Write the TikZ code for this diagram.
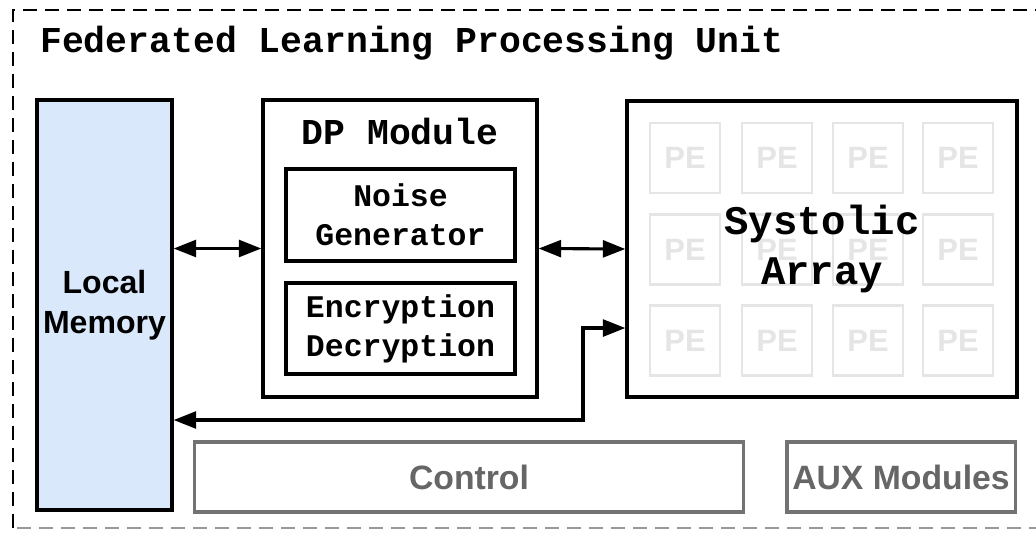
\documentclass[tikz,border=0pt]{standalone}
\usepackage{fontspec}
\setmainfont{Liberation Sans}
\setsansfont{Liberation Sans}
\setmonofont{Liberation Mono}
\usetikzlibrary{arrows.meta}
\definecolor{memblue}{HTML}{DAE8FC}

\tikzset{
	box/.style={draw=black, line width=2.3pt, inner sep=0pt, align=center},
	greybox/.style={draw=black!55, line width=2.2pt, inner sep=0pt, text=black!60, minimum height=1.75cm, font=\sffamily\bfseries\fontsize{24}{28}\selectfont},
	pebox/.style={draw=black!10, line width=2pt, inner sep=0pt, minimum width=1.75cm, minimum height=1.75cm, text=black!10, font=\sffamily\bfseries\fontsize{22}{26}\selectfont},
	monobig/.style={font=\ttfamily\bfseries\fontsize{25.9}{30}\selectfont},
	monosmall/.style={font=\ttfamily\bfseries\fontsize{22.4}{27.7}\selectfont},
	link/.style={line width=2.2pt, {Triangle[length=16pt,width=12pt]}-{Triangle[length=16pt,width=12pt]}},
	outerdash/.style={line width=2.1pt, dash pattern=on 0.35cm off 0.2cm}
}

\begin{document}
\begin{tikzpicture}[x=0.025cm, y=-0.025cm]
		%%%%% START %%%%%
		\useasboundingbox (0, 0) rectangle (1036, 533);
		
		\draw[outerdash] (13, 528) -- (13, 10) -- (1036, 10);
		\draw[outerdash, draw=black!40, line width=1.6pt] (17, 528) -- (1036, 528);
		
		\node[monobig, anchor=base west, inner sep=0pt] (title) at (40, 52) {Federated Learning Processing Unit};
		
		\node[box, fill=memblue, minimum width=3.375cm, minimum height=10.25cm, font=\sffamily\bfseries\fontsize{22.8}{28.4}\selectfont] (lm) at (104.5, 305) {Local\\Memory};
		
		\node[box, minimum width=6.85cm, minimum height=7.425cm] (dp) at (400, 248.5) {};
		\node[monobig, anchor=base, inner sep=0pt] (dptitle) at (400, 144) {DP Module};
		\node[box, monosmall, minimum width=5.725cm, minimum height=2.3cm] (noise) at (400.5, 215) {Noise\\Generator};
		\node[box, monosmall, minimum width=5.725cm, minimum height=2.275cm] (enc) at (400.5, 328.5) {Encryption\\Decryption};
		
		\node[pebox] (pe11) at (685, 158) {PE};
		\node[pebox] (pe12) at (777, 158) {PE};
		\node[pebox] (pe13) at (868, 158) {PE};
		\node[pebox] (pe14) at (958, 158) {PE};
		\node[pebox] (pe21) at (685, 249.5) {PE};
		\node[pebox] (pe22) at (777, 249.5) {PE};
		\node[pebox] (pe23) at (868, 249.5) {PE};
		\node[pebox] (pe24) at (958, 249.5) {PE};
		\node[pebox] (pe31) at (685, 340.5) {PE};
		\node[pebox] (pe32) at (777, 340.5) {PE};
		\node[pebox] (pe33) at (868, 340.5) {PE};
		\node[pebox] (pe34) at (958, 340.5) {PE};
		
		\node[box, minimum width=9.75cm, minimum height=7.4cm, font=\ttfamily\bfseries\fontsize{28.9}{35.6}\selectfont] (sa) at (822, 249) {Systolic\\Array};
		
		\node[greybox, minimum width=13.7cm] (ctrl) at (469, 477) {Control};
		\node[greybox, minimum width=5.7cm] (aux) at (901, 477) {AUX Modules};
		
		\draw[link] (lm.east |- dp.west) -- (dp.west);
		\draw[link] (dp.east) -- (sa.west);
		
		\coordinate (retbend) at (583, 420);
		\draw[link] (lm.east |- retbend) -- (retbend) |- ([yshift=-1.975cm]sa.west);
		
		%%%%% END %%%%%
	\end{tikzpicture}
\end{document}
